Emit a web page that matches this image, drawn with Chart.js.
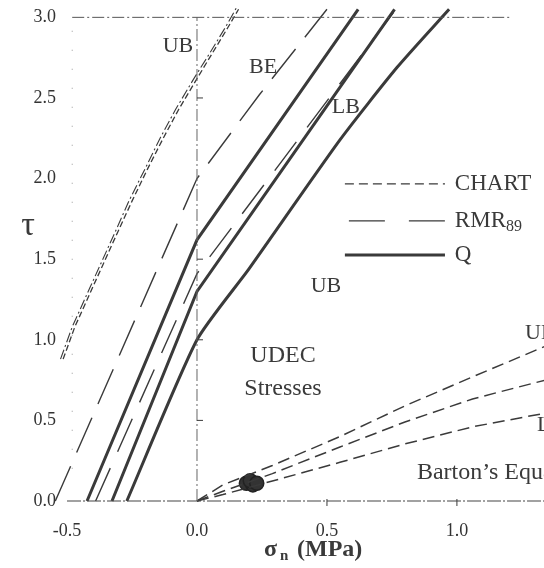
<!DOCTYPE html>
<html>
<head>
<meta charset="utf-8">
<script src="https://cdn.jsdelivr.net/npm/chart.js@4/dist/chart.umd.min.js"></script>
<style>
  html, body { margin: 0; padding: 0; background: #fff; }
  #wrap { width: 544px; height: 568px; }
</style>
</head>
<body>
<div id="wrap"><canvas id="envChart" width="544" height="568"></canvas></div>
<script>
// tick values
const sigmaTicks = [-0.5, 0.0, 0.5, 1.0];
const tauTicks = [0.0, 0.5, 1.0, 1.5, 2.0, 2.5, 3.0];

// CHART upper bound (short dashed) and its dash-dot twin
const chartUbSigma = [-0.515, -0.47, -0.40, -0.31, -0.25, -0.19, -0.13, -0.07, 0.0, 0.06, 0.12, 0.16];
const chartUbTau   = [0.88, 1.08, 1.33, 1.65, 1.86, 2.06, 2.25, 2.43, 2.62, 2.78, 2.94, 3.05];
const twinUbSigma  = [-0.525, -0.48, -0.41, -0.32, -0.262, -0.2, -0.142, -0.082, -0.012, 0.05, 0.11, 0.152];
const twinUbTau    = [0.88, 1.08, 1.33, 1.65, 1.86, 2.06, 2.25, 2.43, 2.62, 2.78, 2.94, 3.06];

// RMR89 envelopes (long dashed)
const rmrUpperSigma = [-0.545, 0.0, 0.24, 0.50];
const rmrUpperTau   = [0.0, 2.0, 2.52, 3.05];
const rmrLowerSigma = [-0.39, 0.0, 0.29, 0.76];
const rmrLowerTau   = [0.0, 1.41, 2.03, 3.04];

// Q envelopes (solid)
const qUpperSigma = [-0.423, 0.0, 0.62];
const qUpperTau   = [0.0, 1.62, 3.05];
const qMidSigma   = [-0.327, 0.0, 0.76];
const qMidTau     = [0.0, 1.30, 3.05];
const qLowerSigma = [-0.27, 0.0, 0.2, 0.55, 0.77, 0.97];
const qLowerTau   = [0.0, 1.0, 1.44, 2.24, 2.69, 3.05];

// Barton's equation (short dashed fan)
const bartonSigma = [0.0, 0.1, 0.29, 0.55, 0.8, 1.06, 1.34];
const bartonUb = [0.0, 0.1, 0.22, 0.40, 0.59, 0.77, 0.96];
const bartonBe = [0.0, 0.06, 0.17, 0.335, 0.49, 0.633, 0.75];
const bartonLb = [0.0, 0.04, 0.124, 0.24, 0.354, 0.46, 0.545];

// UDEC stresses
const udecSigma = [0.19, 0.215, 0.205, 0.23];
const udecTau   = [0.11, 0.10, 0.125, 0.11];

const ink = '#3a3a3a';
const serif = '"Liberation Serif", "DejaVu Serif", serif';

function pts(xs, ys) {
    return xs.map((x, i) => ({ x: x, y: ys[i] }));
}

function lineSet(data, width, dash, color) {
    return {
        data: data,
        showLine: true,
        borderColor: color || ink,
        borderWidth: width,
        borderDash: dash,
        pointRadius: 0,
        fill: false,
        clip: false
    };
}

const dashDot = [12, 3, 2, 3];

// texte and legend drawn on top
const annotations = {
    id: 'annotations',
    beforeDraw(chart) {
        const ctx = chart.ctx;
        ctx.save();
        ctx.fillStyle = '#fff';
        ctx.fillRect(0, 0, chart.width, chart.height);
        ctx.restore();
    },
    afterDraw(chart) {
        const ctx = chart.ctx;
        const xs = chart.scales.x;
        const ys = chart.scales.y;
        const px = v => xs.getPixelForValue(v);
        const py = v => ys.getPixelForValue(v);

        ctx.save();
        ctx.fillStyle = ink;
        ctx.strokeStyle = ink;

        // small ticks on the sigma = 0 axis and the base line
        ctx.lineWidth = 1;
        [0.5, 1.0, 1.5, 2.5].forEach(t => {
            ctx.beginPath();
            ctx.moveTo(px(0), py(t));
            ctx.lineTo(px(0) + 6, py(t));
            ctx.stroke();
        });
        [0.5, 1.0].forEach(s => {
            ctx.beginPath();
            ctx.moveTo(px(s), py(0) - 2);
            ctx.lineTo(px(s), py(0) + 5);
            ctx.stroke();
        });

        // labels on the plot
        ctx.font = '22px ' + serif;
        ctx.textAlign = 'center';
        ctx.textBaseline = 'middle';
        ctx.fillText('UB', px(-0.073), py(2.82));
        ctx.fillText('BE', px(0.254), py(2.69));
        ctx.fillText('LB', px(0.573), py(2.44));
        ctx.fillText('UB', px(0.496), py(1.33));
        ctx.font = '24px ' + serif;
        ctx.fillText('UDEC', px(0.331), py(0.90));
        ctx.fillText('Stresses', px(0.331), py(0.695));
        ctx.textAlign = 'left';
        ctx.font = '22px ' + serif;
        ctx.fillText('UB', px(1.262), py(1.04));
        ctx.fillText('LB', px(1.308), py(0.47));
        ctx.font = '24px ' + serif;
        ctx.fillText('Barton\u2019s Equation', px(0.846), py(0.174));

        // legend
        const lx0 = px(0.569), lx1 = px(0.954), tx = px(0.992);
        ctx.lineWidth = 1.3;
        ctx.setLineDash([9, 5]);
        ctx.beginPath();
        ctx.moveTo(lx0, py(1.967));
        ctx.lineTo(lx1, py(1.967));
        ctx.stroke();
        ctx.setLineDash([36, 24]);
        ctx.beginPath();
        ctx.moveTo(lx0 + 4, py(1.737));
        ctx.lineTo(lx1, py(1.737));
        ctx.stroke();
        ctx.setLineDash([]);
        ctx.lineWidth = 3;
        ctx.beginPath();
        ctx.moveTo(lx0, py(1.526));
        ctx.lineTo(lx1, py(1.526));
        ctx.stroke();

        ctx.font = '23px ' + serif;
        ctx.fillText('CHART', tx, py(1.967));
        ctx.fillText('RMR', tx, py(1.737));
        const rw = ctx.measureText('RMR').width;
        ctx.font = '16px ' + serif;
        ctx.fillText('89', tx + rw, py(1.737) + 6);
        ctx.font = '23px ' + serif;
        ctx.fillText('Q', tx, py(1.526));

        // axis titles
        ctx.font = '34px ' + serif;
        ctx.textAlign = 'center';
        ctx.fillText('\u03c4', 28, 226);

        ctx.font = 'bold 24px ' + serif;
        ctx.textAlign = 'left';
        ctx.fillText('\u03c3', 264, 550);
        ctx.font = 'bold 15px ' + serif;
        ctx.fillText('n', 280, 556);
        ctx.font = 'bold 24px ' + serif;
        ctx.fillText('(MPa)', 297, 550);

        ctx.restore();
    }
};

const ctx = document.getElementById('envChart').getContext('2d');
new Chart(ctx, {
    type: 'scatter',
    data: {
        datasets: [
            // frame lines
            lineSet([{ x: -0.48, y: 3.0 }, { x: 1.21, y: 3.0 }], 1, dashDot, '#555'),
            lineSet([{ x: 0, y: 0 }, { x: 0, y: 3.0 }], 1, dashDot, '#666'),
            lineSet([{ x: -0.5, y: 0 }, { x: 1.34, y: 0 }], 1.2, [14, 2, 2, 2], '#444'),
            lineSet([{ x: -0.48, y: 0.2 }, { x: -0.48, y: 3.0 }], 1, [1, 18], '#999'),

            // CHART upper bound
            lineSet(pts(chartUbSigma, chartUbTau), 1.3, [6, 3]),
            lineSet(pts(twinUbSigma, twinUbTau), 1.1, [10, 3, 2, 3]),

            // RMR89
            lineSet(pts(rmrUpperSigma, rmrUpperTau), 1.4, [38, 15]),
            lineSet(pts(rmrLowerSigma, rmrLowerTau), 1.4, [36, 18]),

            // Q
            lineSet(pts(qUpperSigma, qUpperTau), 3),
            lineSet(pts(qMidSigma, qMidTau), 3),
            Object.assign(lineSet(pts(qLowerSigma, qLowerTau), 3), { tension: 0.2 }),

            // Barton's equation
            lineSet(pts(bartonSigma, bartonUb), 1.5, [12, 6]),
            lineSet(pts(bartonSigma, bartonBe), 1.5, [12, 6]),
            lineSet(pts(bartonSigma, bartonLb), 1.5, [12, 6]),

            // UDEC stresses
            {
                data: pts(udecSigma, udecTau),
                showLine: false,
                pointRadius: 7,
                pointBackgroundColor: '#333',
                pointBorderColor: '#222',
                pointBorderWidth: 1.5,
                clip: false
            }
        ]
    },
    options: {
        responsive: false,
        animation: false,
        events: [],
        layout: { autoPadding: false, padding: { top: 8, left: 0, right: 0, bottom: 0 } },
        plugins: {
            legend: { display: false },
            tooltip: { enabled: false }
        },
        scales: {
            x: {
                type: 'linear',
                min: -0.527,
                max: 1.335,
                grid: { display: false, drawTicks: false },
                border: { display: false },
                afterBuildTicks: s => { s.ticks = sigmaTicks.map(v => ({ value: v })); },
                afterFit: s => { s.height = 67; s.paddingLeft = 0; s.paddingRight = 0; },
                ticks: {
                    padding: 19,
                    color: '#333',
                    font: { family: serif, size: 18 },
                    callback: v => v.toFixed(1)
                }
            },
            y: {
                type: 'linear',
                min: 0,
                max: 3.058,
                grid: { display: false, drawTicks: false },
                border: { display: false },
                afterBuildTicks: s => { s.ticks = tauTicks.map(v => ({ value: v })); },
                afterFit: s => { s.width = 60; s.paddingTop = 0; s.paddingBottom = 0; },
                ticks: {
                    padding: 4,
                    color: '#333',
                    font: { family: serif, size: 18 },
                    callback: v => v.toFixed(1)
                }
            }
        }
    },
    plugins: [annotations]
});
</script>
</body>
</html>
